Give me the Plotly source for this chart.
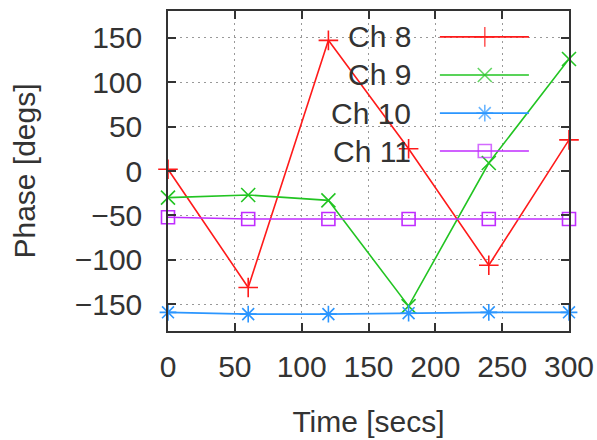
import plotly.graph_objects as go

time_s = [0, 60, 120, 180, 240, 300]
ch8 = [2, -131, 147, 25, -106, 35]
ch9 = [-30, -27, -33, -152, 9, 126]
ch10 = [-159, -161, -161, -160, -159, -159]
ch11 = [-52, -54, -54, -54, -54, -54]

names = ["Ch 8", "Ch 9", "Ch 10", "Ch 11"]
series = [ch8, ch9, ch10, ch11]
colors = ["#ff1a1a", "#22c422", "#2b96ff", "#c02cff"]
symbols = ["cross-thin-open", "x-thin-open", "asterisk-open", "square-open"]
msizes = [14, 14, 14, 13]

x_ticks = [0, 50, 100, 150, 200, 250, 300]
y_ticks = [-150, -100, -50, 0, 50, 100, 150]

FONT = "Liberation Sans"
FS = 30
fig = go.Figure()

for name, ys, c, s, ms in zip(names, series, colors, symbols, msizes):
    fig.add_trace(go.Scatter(
        x=time_s, y=ys, mode="lines+markers", name=name,
        line=dict(color=c, width=1.6),
        marker=dict(symbol=s, size=ms, color=c, line=dict(color=c, width=1.6)),
        showlegend=False, cliponaxis=False,
    ))

# manual key (text left, sample right), in plot-area fractions
key_rows = [0.919, 0.80, 0.681, 0.5625]
for name, c, s, ms, ky in zip(names, colors, symbols, msizes, key_rows):
    fig.add_trace(go.Scatter(
        x=[0.678, 0.79, 0.90], y=[ky, ky, ky], xaxis="x2", yaxis="y2",
        mode="lines+markers", showlegend=False,
        line=dict(color=c, width=1.6),
        marker=dict(symbol=s, size=[0, ms, 0], color=c, line=dict(color=c, width=1.6)),
    ))
    fig.add_annotation(
        x=0.612, y=ky, xref="paper", yref="paper", text=name, showarrow=False,
        xanchor="right", yanchor="middle",
        font=dict(family=FONT, size=FS, color="#333333"),
    )

fig.add_shape(type="rect", xref="paper", yref="paper",
              x0=0.387, x1=0.945, y0=0.5125, y1=0.995,
              fillcolor="white", line=dict(width=0), layer="between")

axis_common = dict(
    showline=True, linecolor="#333333", linewidth=1.5, mirror="ticks",
    ticks="inside", ticklen=8, tickwidth=1.5, tickcolor="#333333",
    showgrid=True, gridcolor="#999999", gridwidth=1.2, griddash="2px,4px",
    zeroline=False, automargin=False,
    tickfont=dict(family=FONT, size=FS, color="#333333"),
)

fig.update_layout(
    width=597, height=440,
    margin=dict(l=168, r=28, t=11, b=109),
    plot_bgcolor="white", paper_bgcolor="white",
    xaxis=dict(range=[0, 300], tickvals=x_ticks, ticklabelstandoff=8,
               title=dict(text="Time [secs]", standoff=29,
                          font=dict(family=FONT, size=FS, color="#333333")),
               **axis_common),
    yaxis=dict(range=[-180, 180], tickvals=y_ticks, ticklabelstandoff=18,
               title=dict(text="Phase [degs]", standoff=30,
                          font=dict(family=FONT, size=FS, color="#333333")),
               **axis_common),
    xaxis2=dict(overlaying="x", range=[0, 1], visible=False),
    yaxis2=dict(overlaying="y", range=[0, 1], visible=False),
)

# remove the default page margin so the 597x440 figure fills the window exactly
fig.write_html(
    "out.html",
    config={"displayModeBar": False},
    post_script="document.body.style.margin='0';document.documentElement.style.overflow='hidden';",
)
